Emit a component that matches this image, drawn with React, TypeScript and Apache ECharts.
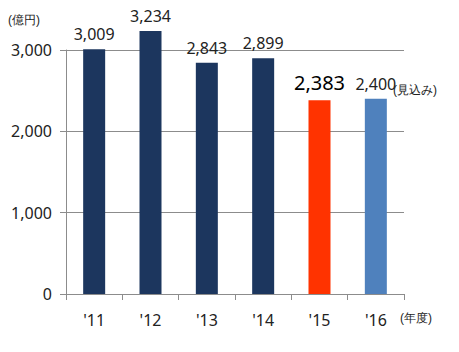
import React, { useEffect, useRef } from "react";
import * as echarts from "echarts";

const categories = ["'11", "'12", "'13", "'14", "'15", "'16"];
const values = [3009, 3234, 2843, 2899, 2383, 2400];
const barColors = ["#1c365e", "#1c365e", "#1c365e", "#1c365e", "#ff3300", "#4f81bd"];
const yTicks = [0, 1000, 2000, 3000];
const unitLabel = "(億円)";
const yearLabel = "(年度)";
const forecastLabel = "(見込み)";

const FONT = "'Noto Sans', 'Noto Sans CJK JP', sans-serif";

export default function App() {
  const ref = useRef<HTMLDivElement>(null);
  useEffect(() => {
    if (!ref.current) return;
    const chart = echarts.init(ref.current, null, { renderer: "svg" });
    chart.setOption({
      animation: false,
      textStyle: { fontFamily: FONT },
      grid: { left: 66, right: 55, top: 50, bottom: 58 },
      xAxis: {
        type: "category",
        data: categories,
        boundaryGap: true,
        axisLine: { show: true, lineStyle: { color: "#8c8c8c", width: 1 } },
        axisTick: { show: true, length: 6, lineStyle: { color: "#8c8c8c" } },
        axisLabel: { color: "#222", fontSize: 16, margin: 18, fontFamily: FONT },
      },
      yAxis: {
        type: "value",
        min: yTicks[0],
        max: yTicks[yTicks.length - 1],
        interval: 1000,
        axisLine: { show: true, lineStyle: { color: "#8c8c8c", width: 1 } },
        axisTick: { show: true, length: 6, lineStyle: { color: "#8c8c8c" } },
        splitLine: { show: true, lineStyle: { color: "#8c8c8c", width: 1 } },
        axisLabel: {
          color: "#222",
          fontSize: 16,
          margin: 14,
          fontFamily: FONT,
          formatter: (v: number) => v.toLocaleString("en-US"),
        },
      },
      series: [
        {
          type: "bar",
          clip: false,
          barWidth: 22,
          data: values.map((v, i) => ({
            value: v,
            itemStyle: { color: barColors[i] },
            label:
              i === 4
                ? { fontSize: 20, color: "#000", distance: 8 }
                : undefined,
          })),
          label: {
            show: true,
            position: "top",
            distance: 7,
            fontSize: 16,
            color: "#222",
            fontFamily: FONT,
            formatter: (p: any) => Number(p.value).toLocaleString("en-US"),
          },
        },
      ],
      graphic: [
        {
          type: "text",
          left: 8,
          top: 14,
          style: { text: unitLabel, fontSize: 12, fill: "#222", font: `12px ${FONT}` },
        },
        {
          type: "text",
          left: 400,
          top: 312,
          style: { text: yearLabel, fontSize: 12, fill: "#222", font: `12px ${FONT}` },
        },
        {
          type: "text",
          left: 393,
          top: 84,
          style: { text: forecastLabel, fontSize: 12, fill: "#222", font: `12px ${FONT}` },
        },
      ],
    });
    return () => chart.dispose();
  }, []);
  return (
    <div
      ref={ref}
      style={{ position: "absolute", left: 0, top: 0, width: 459, height: 352 }}
    />
  );
}
